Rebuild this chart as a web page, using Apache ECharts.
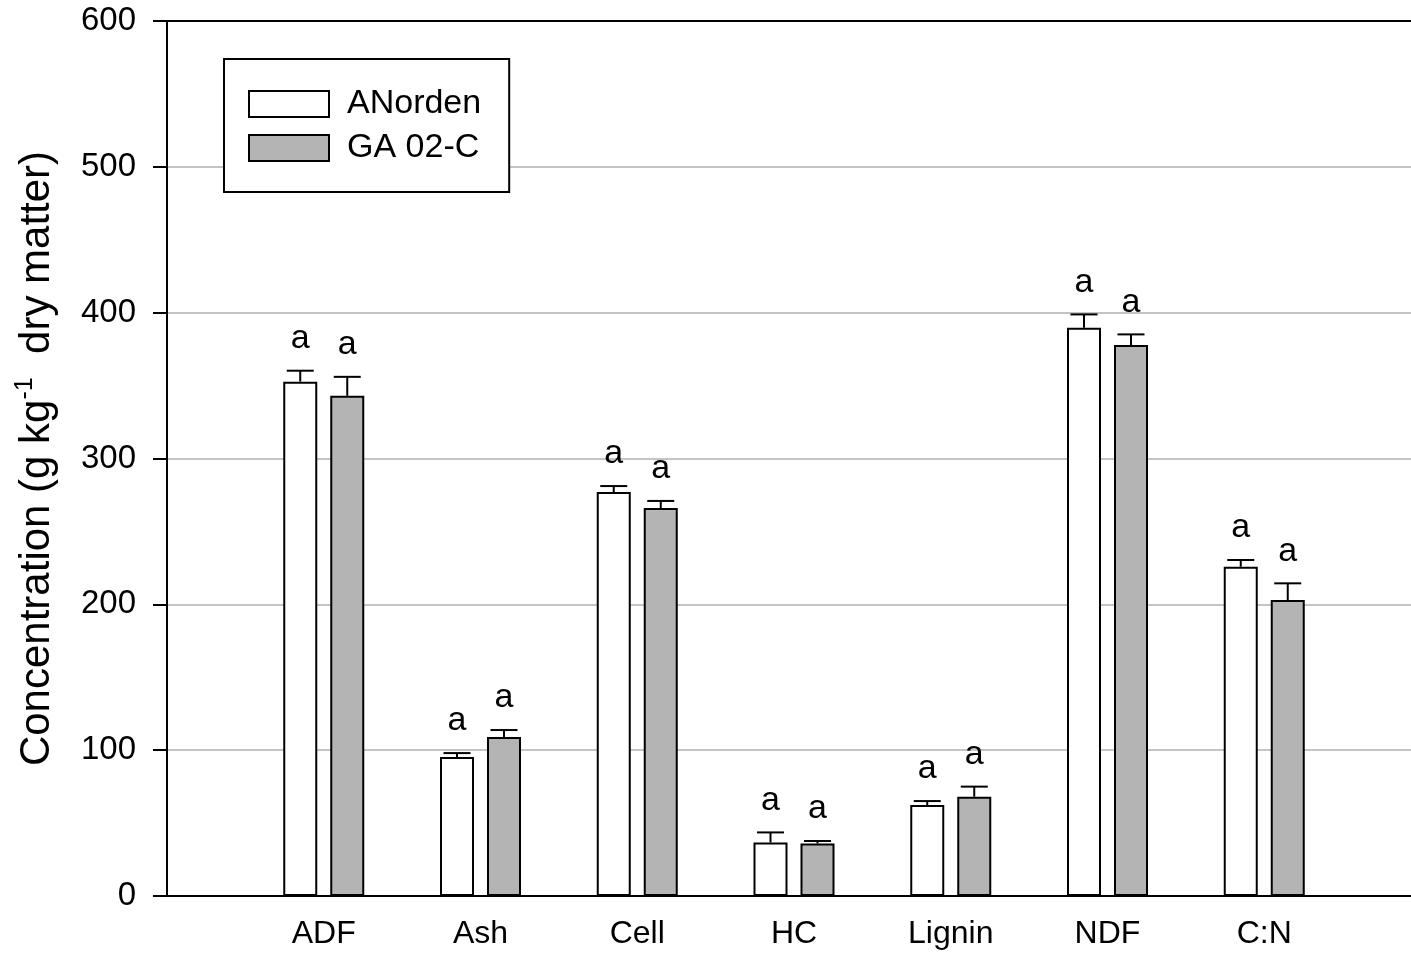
<!DOCTYPE html>
<html>
<head>
<meta charset="utf-8">
<title>Concentration by forage fraction</title>
<script src="https://cdn.jsdelivr.net/npm/echarts@6/dist/echarts.min.js"></script>
<style>
  html, body { margin: 0; padding: 0; background: #fff; }
  #chart { width: 1411px; height: 956px; }
</style>
</head>
<body>
<div id="chart"></div>
<script>
// Fractions on the x axis
const categories = ['ADF', 'Ash', 'Cell', 'HC', 'Lignin', 'NDF', 'C:N'];

// Mean concentration (g kg-1 dry matter) and standard error, per cultivar
const anorden    = [352.7, 95.3, 277.0, 36.7, 62.4, 389.6, 225.8];
const anordenErr = [7.5, 2.7, 4.1, 6.9, 2.7, 9.2, 4.6];
const ga02c      = [343.0, 109.0, 266.0, 36.0, 68.1, 377.8, 203.0];
const ga02cErr   = [13.0, 4.8, 4.9, 1.7, 6.9, 7.3, 11.4];

// Significance letters above each bar
const anordenLetters = ['a', 'a', 'a', 'a', 'a', 'a', 'a'];
const ga02cLetters   = ['a', 'a', 'a', 'a', 'a', 'a', 'a'];

// Y axis ticks
const yTicks = [0, 100, 200, 300, 400, 500, 600];

const FONT = "'Liberation Sans', Arial, Helvetica, sans-serif";
const BAR_W = 34;
const BAR_GAP_PX = 13;
const OFFSET = (BAR_W + BAR_GAP_PX) / 2;
const CAP_HALF = 13.5;

// Empty slots at both ends so the first and last groups sit one step in from the axis ends
const axisCats = [''].concat(categories, ['']);
const pad = arr => ['-'].concat(arr, ['-']);

function errorData(values, errs, side) {
  return categories.map((c, i) => [c, values[i], errs[i], side]);
}

// Upward error bar with cap, plus the significance letter above it
function makeErrorSeries(name, values, errs, letters, side) {
  return {
    type: 'custom',
    name: name + ' error',
    z: 5,
    silent: true,
    data: errorData(values, errs, side),
    encode: { x: 0, y: 1 },
    renderItem: function (params, api) {
      const idx = api.value(0);
      const v = api.value(1);
      const e = api.value(2);
      const base = api.coord([idx, v]);
      const top = api.coord([idx, v + e]);
      const cx = base[0] + side * OFFSET;
      return {
        type: 'group',
        children: [
          { type: 'line', shape: { x1: cx, y1: base[1], x2: cx, y2: top[1] },
            style: { stroke: '#000', lineWidth: 2 } },
          { type: 'line', shape: { x1: cx - CAP_HALF, y1: top[1], x2: cx + CAP_HALF, y2: top[1] },
            style: { stroke: '#000', lineWidth: 2 } },
          { type: 'text',
            style: {
              text: letters[params.dataIndex],
              x: cx, y: top[1] - 15,
              align: 'center', verticalAlign: 'bottom',
              fontFamily: FONT, fontSize: 34, fill: '#000'
            } }
        ]
      };
    }
  };
}

const chart = echarts.init(document.getElementById('chart'), null, { renderer: 'canvas' });

chart.setOption({
  backgroundColor: '#fff',
  animation: false,
  textStyle: { fontFamily: FONT },
  grid: {
    left: 167, top: 21, width: 1254, bottom: 60,
    outerBoundsMode: 'none',
    containLabel: false,
    show: true, borderColor: '#000', borderWidth: 2, backgroundColor: 'transparent'
  },
  legend: {
    data: ['ANorden', 'GA 02-C'],
    orient: 'vertical',
    left: 224, top: 59,
    padding: [28, 28, 27, 24],
    itemGap: 10,
    itemWidth: 80, itemHeight: 26,
    icon: 'rect',
    backgroundColor: '#fff',
    borderColor: '#000', borderWidth: 2,
    itemStyle: { borderColor: '#000', borderWidth: 2 },
    textStyle: { fontFamily: FONT, fontSize: 34, color: '#000', padding: [0, 0, 0, 13], lineHeight: 32 }
  },
  xAxis: {
    type: 'category',
    data: axisCats,
    boundaryGap: false,
    axisLine: { lineStyle: { color: '#000', width: 2 } },
    axisTick: { show: false },
    axisLabel: { fontFamily: FONT, fontSize: 32, color: '#000', margin: 22, interval: 0 },
    splitLine: { show: false }
  },
  yAxis: {
    type: 'value',
    min: yTicks[0], max: yTicks[yTicks.length - 1], interval: 100,
    name: '{t|Concentration (g kg}{s|-1}{t|  dry matter)}',
    nameLocation: 'middle',
    nameGap: 106,
    nameTextStyle: {
      rich: {
        t: { fontFamily: FONT, fontSize: 42, color: '#000', lineHeight: 48 },
        s: { fontFamily: FONT, fontSize: 25, color: '#000', verticalAlign: 'top', lineHeight: 30 }
      }
    },
    axisLine: { show: true, lineStyle: { color: '#000', width: 2 } },
    axisTick: { show: true, length: 14, lineStyle: { color: '#000', width: 2 } },
    axisLabel: { fontFamily: FONT, fontSize: 33, color: '#000', margin: 31 },
    splitLine: { show: true, showMinLine: false, showMaxLine: false,
      lineStyle: { color: '#c4c4c4', width: 2 } }
  },
  series: [
    {
      type: 'bar', name: 'ANorden', data: pad(anorden),
      barWidth: BAR_W, barGap: (BAR_GAP_PX / BAR_W * 100) + '%',
      itemStyle: { color: '#ffffff', borderColor: '#000', borderWidth: 2 },
      z: 3
    },
    {
      type: 'bar', name: 'GA 02-C', data: pad(ga02c),
      barWidth: BAR_W, barGap: (BAR_GAP_PX / BAR_W * 100) + '%',
      itemStyle: { color: '#b4b4b4', borderColor: '#000', borderWidth: 2 },
      z: 3
    },
    makeErrorSeries('ANorden', anorden, anordenErr, anordenLetters, -1),
    makeErrorSeries('GA 02-C', ga02c, ga02cErr, ga02cLetters, 1)
  ]
});
</script>
</body>
</html>
